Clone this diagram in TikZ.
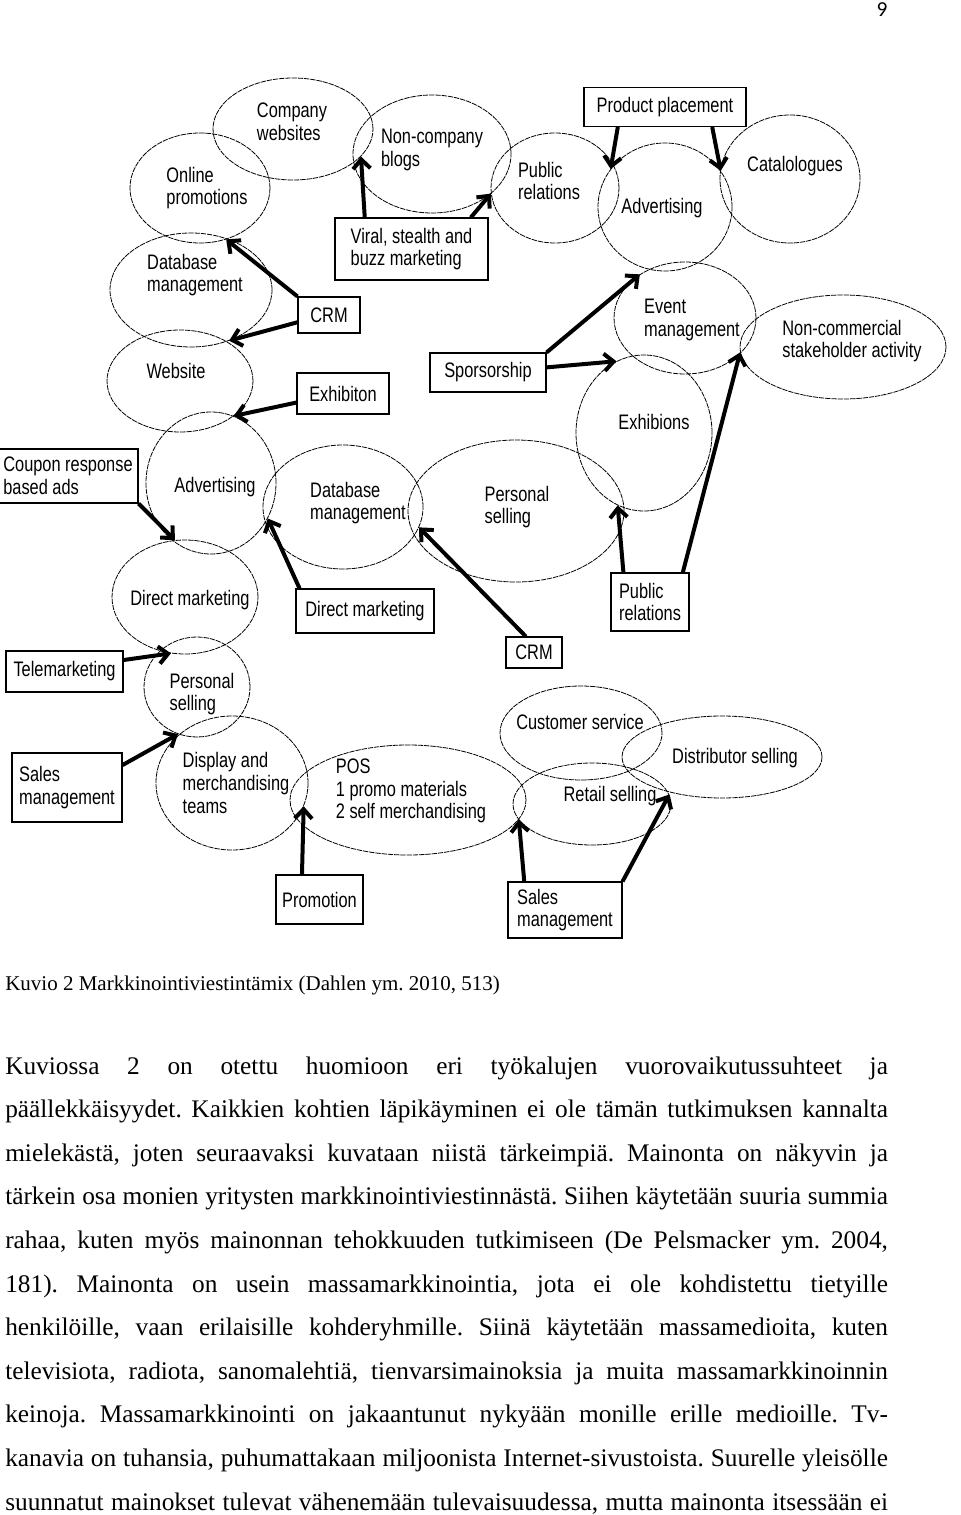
\documentclass[tikz,border=0pt]{standalone}
\usepackage{fontspec}
\usetikzlibrary{shapes.geometric,arrows.meta}
\newfontfamily\diafont[FakeStretch=0.78]{Liberation Sans}
\newfontfamily\bodyfont{Liberation Serif}
\newfontfamily\pagefont{Carlito}
\newcommand{\diatext}{\diafont\fontsize{15.75}{17}\selectfont}
\newcommand{\bodytext}{\bodyfont\fontsize{19}{22}\selectfont\frenchspacing}
\newcommand{\captext}{\bodyfont\fontsize{15.75}{18}\selectfont\frenchspacing}
\newcommand{\fullline}[1]{\makebox[662pt][s]{#1}}

\begin{document}
\begin{tikzpicture}[x=0.75pt,y=-0.75pt,
        oval/.style args={#1/#2}{draw, ellipse, line width=0.6pt, dash pattern=on 4pt off 0.7pt,
            inner sep=0pt, minimum width=#1*1.5pt, minimum height=#2*1.5pt},
        lbl/.style={align=left, inner sep=0pt, font=\diatext},
        box/.style args={#1/#2}{draw, line width=0.8pt, inner sep=0pt, align=left, font=\diatext,
            minimum width=#1*0.75pt, minimum height=#2*0.75pt},
        arr/.style={line width=3pt, -{Straight Barb[length=7pt,width=13pt]}},
        txt/.style={anchor=base west, inner sep=0pt, font=\bodytext}]
                \useasboundingbox (0,0) rectangle (960,1515);
                \node[font=\pagefont\fontsize{16}{18}\selectfont] (pg) at (882,10) {9};
                % ovals, top row
                \node[oval=80/51] (cw) at (293,129) {};
                \node[oval=70/55] (onl) at (200,188) {};
                \node[oval=79/59] (ncb) at (432,154) {};
                \node[oval=64/55] (pr1) at (555,188) {};
                \node[oval=67/64] (adv1) at (665,207) {};
                \node[oval=70/64] (cat) at (790,179) {};
                \node[oval=71/56] (evt) at (685,318) {};
                \node[oval=103/52] (ncs) at (843,347) {};
                \node[oval=68/78] (exh) at (644,433) {};
                \node[oval=108/71] (ps1) at (516,511) {};
                % ovals, left column
                \node[oval=81/57] (db1) at (191,290) {};
                \node[oval=73/51] (web) at (180,381) {};
                \node[oval=65/71] (adv2) at (211,483) {};
                \node[oval=80/62] (db2) at (343,507) {};
                \node[oval=73/57] (dm) at (185,597) {};
                \node[oval=53/50] (ps2) at (197,687) {};
                \node[oval=76/67] (disp) at (232,783) {};
                \node[oval=118/55] (pos) at (408,800) {};
                \node[oval=81/47] (cs) at (581,733) {};
                \node[oval=79/41] (ret) at (592,804) {};
                \node[oval=100/41] (dist) at (722,757) {};
                % oval texts
                \node[lbl] (cwt) at (292,122) {Company\\websites};
                \node[lbl] (onlt) at (207,188) {Online\\promotions};
                \node[lbl] (ncbt) at (432,150) {Non-company\\blogs};
                \node[lbl] (pr1t) at (549,181) {Public\\relations};
                \node[lbl] (adv1t) at (662,208) {Advertising};
                \node[lbl] (catt) at (795,166) {Catalologues};
                \node[lbl] (evtt) at (692,320) {Event\\management};
                \node[lbl] (ncst) at (852,341) {Non-commercial\\stakeholder activity};
                \node[lbl] (exht) at (654,422) {Exhibions};
                \node[lbl] (ps1t) at (517,507) {Personal\\selling};
                \node[lbl] (db1t) at (195,275) {Database\\management};
                \node[lbl] (webt) at (176,371) {Website};
                \node[lbl] (adv2t) at (215,487) {Advertising};
                \node[lbl] (db2t) at (358,503) {Database\\management};
                \node[lbl] (dmt) at (190,600) {Direct marketing};
                \node[lbl] (ps2t) at (202,694) {Personal\\selling};
                \node[lbl] (dispt) at (236,783) {Display and\\merchandising\\teams};
                \node[lbl] (post) at (411,791) {POS\\1 promo materials\\2 self merchandising};
                \node[lbl] (cst) at (580,722) {Customer service};
                \node[lbl] (rett) at (610,796) {Retail selling};
                \node[lbl] (distt) at (735,758) {Distributor selling};
                % boxes
                \node[box=162/39] (pp) at (665,107) {Product placement};
                \node[box=153/62] (vir) at (411.5,249) {Viral, stealth and\\buzz marketing};
                \node[box=62/36] (crm1) at (329,315) {CRM};
                \node[box=92/41] (exb) at (343,393.5) {Exhibiton};
                \node[box=116/39] (spo) at (488,372.5) {Sporsorship};
                \node[box=140/54] (cou) at (68,476) {Coupon response\\based ads};
                \node[box=138/44] (dmb) at (365,611) {Direct marketing};
                \node[box=78/58] (prb) at (650,602) {Public\\relations};
                \node[box=56/31] (crm2) at (534,652.5) {CRM};
                \node[box=117/41] (tel) at (64.5,671.5) {Telemarketing};
                \node[box=110/69] (smb1) at (67,787.5) {Sales\\management};
                \node[box=87/49] (pro) at (319.5,899.5) {Promotion};
                \node[box=114/56] (smb2) at (565,910) {Sales\\management};
                % arrows
                \draw[arr] (crm1.north west) -- (onl.-63);
                \draw[arr] (crm1.193) -- (db1.-53);
                \draw[arr] (vir.146) -- (cw.-22);
                \draw[arr] (vir.28) -- (pr1.185);
                \draw[arr] (pp.203) -- (adv1.145);
                \draw[arr] (pp.-23) -- (adv1.33);
                \draw[arr] (spo.north east) -- (evt.136);
                \draw[arr] (spo.5) -- (exh.111);
                \draw[arr] (prb.42) -- (ncs.183);
                \draw[arr] (prb.132) -- (exh.-110);
                \draw[arr] (crm2.117) -- (db2.-15);
                \draw[arr] (exb.191) -- (web.-33);
                \draw[arr] (cou.south east) -- (dm.100);
                \draw[arr] (dmb.161) -- (adv2.-32);
                \draw[arr] (tel.11) -- (dm.-104);
                \draw[arr] (smb1.22) -- (ps2.-112);
                \draw[arr] (pro.125) -- (disp.-18);
                \draw[arr] (smb2.145) -- (pos.-10);
                \draw[arr] (smb2.north east) -- (ret.7);
                % caption and body text
                \node[anchor=base west, inner sep=0pt, font=\captext] (cap) at (5,990) {Kuvio 2 Markkinointiviestintämix (Dahlen ym. 2010, 513)};
                \node[txt] (l1) at (5,1074) {\fullline{Kuviossa 2 on otettu huomioon eri työkalujen vuorovaikutussuhteet ja}};
                \node[txt] (l2) at (5,1117.6) {\fullline{päällekkäisyydet. Kaikkien kohtien läpikäyminen ei ole tämän tutkimuksen kannalta}};
                \node[txt] (l3) at (5,1161.2) {\fullline{mielekästä, joten seuraavaksi kuvataan niistä tärkeimpiä. Mainonta on näkyvin ja}};
                \node[txt] (l4) at (5,1204.8) {\fullline{tärkein osa monien yritysten markkinointiviestinnästä. Siihen käytetään suuria summia}};
                \node[txt] (l5) at (5,1248.4) {\fullline{rahaa, kuten myös mainonnan tehokkuuden tutkimiseen (De Pelsmacker ym. 2004,}};
                \node[txt] (l6) at (5,1292) {\fullline{181). Mainonta on usein massamarkkinointia, jota ei ole kohdistettu tietyille}};
                \node[txt] (l7) at (5,1335.6) {\fullline{henkilöille, vaan erilaisille kohderyhmille. Siinä käytetään massamedioita, kuten}};
                \node[txt] (l8) at (5,1379.2) {\fullline{televisiota, radiota, sanomalehtiä, tienvarsimainoksia ja muita massamarkkinoinnin}};
                \node[txt] (l9) at (5,1422.8) {\fullline{keinoja. Massamarkkinointi on jakaantunut nykyään monille erille medioille. Tv-}};
                \node[txt] (l10) at (5,1466.4) {\fullline{kanavia on tuhansia, puhumattakaan miljoonista Internet-sivustoista. Suurelle yleisölle}};
                \node[txt] (l11) at (5,1510) {\fullline{suunnatut mainokset tulevat vähenemään tulevaisuudessa, mutta mainonta itsessään ei}};
            \end{tikzpicture}
\end{document}
